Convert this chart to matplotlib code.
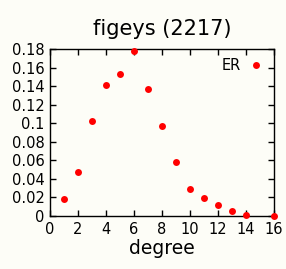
import matplotlib
matplotlib.use("Agg")
import matplotlib.pyplot as plt

degree = [1, 2, 3, 4, 5, 6, 7, 8, 9, 10, 11, 12, 13, 14, 16]
freq = [0.0185, 0.0475, 0.102, 0.1415, 0.1535, 0.178, 0.1365, 0.097, 0.0585,
        0.029, 0.019, 0.012, 0.005, 0.001, 0.0003]
xticks = [0, 2, 4, 6, 8, 10, 12, 14, 16]
yticks = [0, 0.02, 0.04, 0.06, 0.08, 0.1, 0.12, 0.14, 0.16, 0.18]
ylabels = ["0", "0.02", "0.04", "0.06", "0.08", "0.1", "0.12", "0.14", "0.16", "0.18"]

bg = "#fdfdf7"
fig = plt.figure(figsize=(2.86, 2.69), dpi=100, facecolor=bg)
ax = fig.add_axes([0.175, 0.197, 0.783, 0.621], facecolor=bg)
ax.plot(degree, freq, "o", color="#ff0000", markersize=5, markeredgewidth=0,
        label="ER", clip_on=False, zorder=5)
ax.set_xlim(0, 16)
ax.set_ylim(0, 0.18)
ax.set_xticks(xticks)
ax.set_yticks(yticks)
ax.set_yticklabels(ylabels)
ax.tick_params(direction="in", top=True, right=True, length=4, width=1,
               labelsize=10.5, pad=4)
for s in ax.spines.values():
    s.set_linewidth(1)
ax.set_title("figeys (2217)", fontsize=15, pad=10)
ax.set_xlabel("degree", fontsize=13.5, labelpad=2)
leg = ax.legend(loc="upper right", frameon=False, markerfirst=False,
                fontsize=10.5, handletextpad=0.5, borderaxespad=0.2,
                handlelength=1.2)
fig.savefig("out.png", dpi=100, facecolor=bg)
